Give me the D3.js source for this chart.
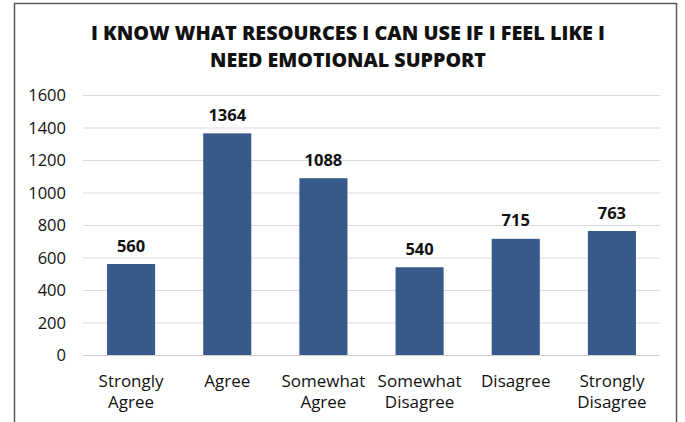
<!DOCTYPE html>
<html>
<head>
<meta charset="utf-8">
<script src="https://cdn.jsdelivr.net/npm/d3@7"></script>
<style>
  html, body { margin: 0; padding: 0; background: #fff; }
  svg { display: block; }
</style>
</head>
<body>
<svg id="chart" width="685" height="422"></svg>
<script>
const categories = [["Strongly", "Agree"], ["Agree"], ["Somewhat", "Agree"], ["Somewhat", "Disagree"], ["Disagree"], ["Strongly", "Disagree"]];
const values = [560, 1364, 1088, 540, 715, 763];
const yTicks = [0, 200, 400, 600, 800, 1000, 1200, 1400, 1600];
const titleLines = ["I KNOW WHAT RESOURCES I CAN USE IF I FEEL LIKE I", "NEED EMOTIONAL SUPPORT"];

const svg = d3.select("#chart");
const W = 685, H = 422;
const plot = { left: 83, right: 660, top: 95, bottom: 355 };
const barColor = "#365a8a";
const font = "'Open Sans', 'Noto Sans', sans-serif";

// frame
svg.append("path")
  .attr("d", `M14.5,${H} L14.5,3.5 L676.5,3.5 L676.5,${H}`)
  .attr("fill", "none").attr("stroke", "#5a5a5a").attr("stroke-width", 1.5);

// title
const titleWidths = [514, 276];
const titleBaselines = [39.5, 66.5];
titleLines.forEach((t, i) => {
  svg.append("text")
    .attr("x", 348).attr("y", titleBaselines[i])
    .attr("text-anchor", "middle")
    .attr("font-family", font).attr("font-weight", 800).attr("font-size", 20)
    .attr("textLength", titleWidths[i]).attr("lengthAdjust", "spacingAndGlyphs")
    .attr("fill", "#111")
    .text(t);
});

const x = d3.scaleBand()
  .domain(d3.range(categories.length))
  .range([plot.left, plot.right])
  .paddingInner(0.5).paddingOuter(0.25);

const y = d3.scaleLinear().domain([0, 1600]).range([plot.bottom, plot.top]);

// gridlines
svg.append("g").selectAll("line").data(yTicks).join("line")
  .attr("x1", plot.left).attr("x2", plot.right)
  .attr("y1", d => y(d) + 0.5).attr("y2", d => y(d) + 0.5)
  .attr("stroke", d => d === 0 ? "#cfcfcf" : "#dcdcdc").attr("stroke-width", 1.2);

// y axis labels
const yAxis = d3.axisLeft(y).tickValues(yTicks).tickSize(0).tickPadding(0).tickFormat(d3.format("d"));
const gy = svg.append("g").attr("transform", `translate(66,0)`).call(yAxis);
gy.select(".domain").remove();
gy.selectAll("text")
  .attr("font-family", font).attr("font-size", 16.5).attr("fill", "#111").attr("dy", "0.35em");

// bars
svg.append("g").selectAll("rect").data(values).join("rect")
  .attr("x", (d, i) => x(i))
  .attr("y", d => y(d))
  .attr("width", x.bandwidth())
  .attr("height", d => y(0) - y(d))
  .attr("fill", barColor);

// value labels
svg.append("g").selectAll("text").data(values).join("text")
  .attr("x", (d, i) => x(i) + x.bandwidth() / 2)
  .attr("y", d => y(d) - 12.5)
  .attr("text-anchor", "middle")
  .attr("font-family", font).attr("font-weight", 700).attr("font-size", 16.5)
  .attr("fill", "#111")
  .text(d => d);

// category labels
const cat = svg.append("g").selectAll("text").data(categories).join("text")
  .attr("x", (d, i) => x(i) + x.bandwidth() / 2)
  .attr("y", 387)
  .attr("text-anchor", "middle")
  .attr("font-family", font).attr("font-size", 17)
  .attr("fill", "#111");
cat.selectAll("tspan").data(d => d).join("tspan")
  .attr("x", function () { return d3.select(this.parentNode).attr("x"); })
  .attr("dy", (d, j) => j === 0 ? 0 : 21)
  .text(d => d);
</script>
</body>
</html>
